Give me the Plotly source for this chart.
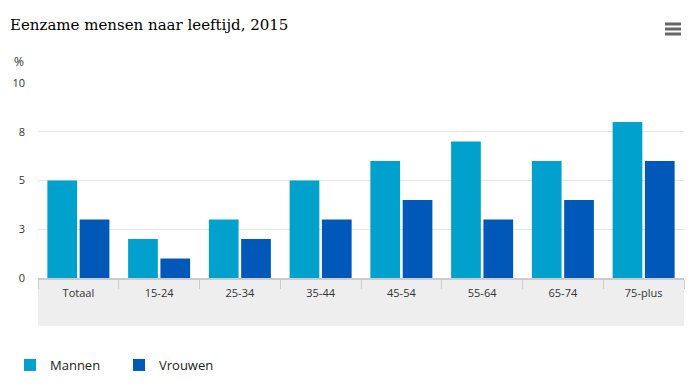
import plotly.graph_objects as go

categories = ["Totaal", "15-24", "25-34", "35-44", "45-54", "55-64", "65-74", "75-plus"]
mannen = [5, 2, 3, 5, 6, 7, 6, 8]
vrouwen = [3, 1, 2, 3, 4, 3, 4, 6]
y_tickvals = [0, 2.5, 5, 7.5, 10]
y_ticktext = ["0", "3", "5", "8", "10"]

font_sans = "Open Sans, Liberation Sans, sans-serif"
W, H = 698, 387

fig = go.Figure()
fig.add_trace(go.Bar(name="Mannen", x=categories, y=mannen, marker=dict(color="#00a1cd", line=dict(width=0))))
fig.add_trace(go.Bar(name="Vrouwen", x=categories, y=vrouwen, marker=dict(color="#0058b8", line=dict(width=0))))

shapes = [
    dict(type="rect", xref="x domain", yref="y domain", x0=0, x1=1, y0=0, y1=-0.245,
         fillcolor="#eeeeee", line=dict(width=0), layer="below"),
]
for i in range(3):
    shapes.append(dict(type="line", xref="paper", yref="paper",
                       x0=(665 - 38) / 646, x1=(681 - 38) / 646,
                       y0=(278 - (24 + 5 * i)) / 195, y1=(278 - (24 + 5 * i)) / 195,
                       line=dict(color="#666666", width=3)))

fig.update_layout(
    width=W, height=H,
    margin=dict(l=38, r=14, t=83, b=109, autoexpand=False),
    paper_bgcolor="white", plot_bgcolor="white",
    barmode="group", bargap=0.2, bargroupgap=0.08,
    title=dict(text="Eenzame mensen naar leeftijd, 2015", x=10 / W, xanchor="left", xref="container",
               y=1 - 25 / H, yanchor="middle", yref="container",
               font=dict(family="DejaVu Serif, serif", size=15, color="#000000")),
    font=dict(family=font_sans, size=11, color="#333333"),
    xaxis=dict(showgrid=False, showline=True, linecolor="#cccccc", linewidth=2,
               ticks="outside", tickson="boundaries", ticklen=9, tickcolor="#cccccc", tickwidth=1,
               ticklabelstandoff=4,
               tickfont=dict(size=11, color="#333333"), fixedrange=True, automargin=False),
    yaxis=dict(range=[0, 10], tickvals=y_tickvals, ticktext=y_ticktext, showgrid=True,
               gridcolor="#e6e6e6", gridwidth=1, zeroline=False, showline=False,
               ticklabelstandoff=12,
               tickfont=dict(size=11, color="#333333"), fixedrange=True, automargin=False),
    legend=dict(orientation="h", x=10 / W, xanchor="left", xref="container",
                y=1 - 365 / H, yanchor="middle", yref="container", entrywidth=64,
                font=dict(size=13, color="#222222"), traceorder="normal"),
    shapes=shapes,
    annotations=[dict(text="%", xref="paper", yref="paper", x=-(38 - 12) / 646, xanchor="left",
                      y=(278 - 62) / 195, yanchor="middle", showarrow=False,
                      font=dict(size=12, color="#333333"))],
)

fig.write_html("out.html", config={"displayModeBar": False},
               post_script="document.body.style.margin='0';document.body.style.overflow='hidden';")
